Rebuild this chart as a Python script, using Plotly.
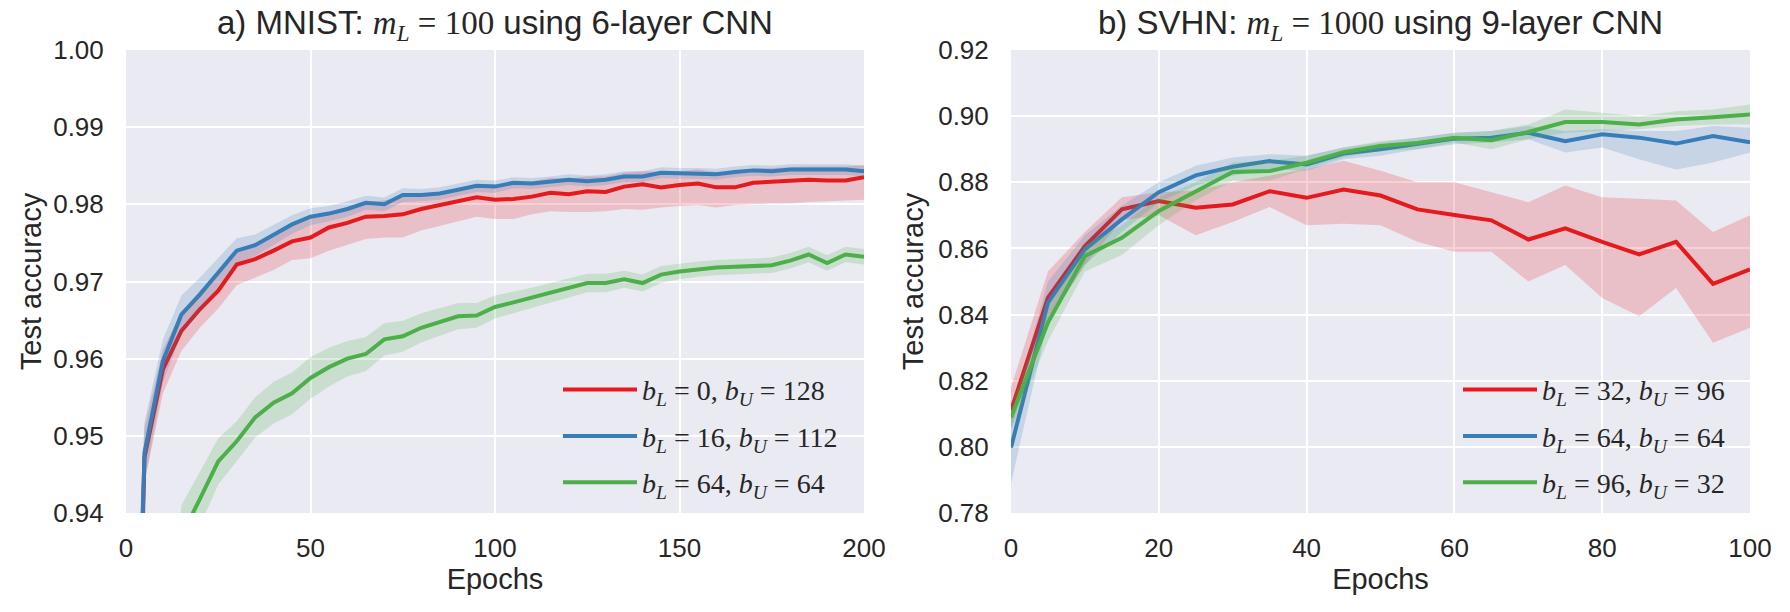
import plotly.graph_objects as go

# ---------------- data: panel a) MNIST ----------------
epochs_a = list(range(0, 205, 5))
red_a = [0.85, 0.9472, 0.9586, 0.9636, 0.9664, 0.9688, 0.9722, 0.9729, 0.9740, 0.9752,
         0.9757, 0.9770, 0.9776, 0.9784, 0.9785, 0.9787, 0.9794, 0.9799, 0.9803, 0.9809,
         0.9806, 0.9807, 0.9810, 0.9815, 0.9813, 0.9817, 0.9816, 0.9823, 0.9826, 0.9822,
         0.9825, 0.9827, 0.9822, 0.9822, 0.9828, 0.9829, 0.9830, 0.9832, 0.9831, 0.9831,
         0.9835]
red_a_lo = [0.80, 0.9440, 0.9555, 0.9610, 0.9640, 0.9665, 0.9695, 0.9705, 0.9715, 0.9728,
            0.9730, 0.9740, 0.9748, 0.9755, 0.9757, 0.9757, 0.9766, 0.9772, 0.9778, 0.9784,
            0.9781, 0.9781, 0.9787, 0.9791, 0.9790, 0.9790, 0.9791, 0.9794, 0.9793, 0.9796,
            0.9798, 0.9799, 0.9796, 0.9799, 0.9800, 0.9801, 0.9801, 0.9803, 0.9804, 0.9805,
            0.9806]
red_a_hi = [0.90, 0.9510, 0.9612, 0.9660, 0.9688, 0.9712, 0.9742, 0.9750, 0.9762, 0.9774,
            0.9782, 0.9790, 0.9797, 0.9803, 0.9805, 0.9810, 0.9813, 0.9816, 0.9820, 0.9826,
            0.9826, 0.9828, 0.9830, 0.9834, 0.9833, 0.9836, 0.9836, 0.9841, 0.9843, 0.9842,
            0.9843, 0.9845, 0.9842, 0.9843, 0.9846, 0.9847, 0.9848, 0.9849, 0.9849, 0.9849,
            0.9851]
blue_a = [0.86, 0.9478, 0.9597, 0.9657, 0.9683, 0.9711, 0.9740, 0.9747, 0.9761, 0.9774,
          0.9784, 0.9788, 0.9794, 0.9802, 0.9800, 0.9812, 0.9812, 0.9814, 0.9819, 0.9824,
          0.9823, 0.9828, 0.9827, 0.9829, 0.9832, 0.9830, 0.9832, 0.9836, 0.9836, 0.9841,
          0.9840, 0.9840, 0.9839, 0.9842, 0.9844, 0.9843, 0.9845, 0.9845, 0.9845, 0.9845,
          0.9843]
blue_a_hw = [0.04, 0.0040, 0.0028, 0.0025, 0.0022, 0.0019, 0.0016, 0.0014, 0.0013, 0.0012,
             0.0011, 0.0010, 0.0010, 0.0009, 0.0009, 0.0009, 0.0008, 0.0008, 0.0008, 0.0008,
             0.0008, 0.0007, 0.0007, 0.0007, 0.0007, 0.0007, 0.0007, 0.0007, 0.0007, 0.0007,
             0.0007, 0.0007, 0.0007, 0.0007, 0.0007, 0.0007, 0.0007, 0.0007, 0.0007, 0.0007,
             0.0007]
green_a = [0.50, 0.80, 0.90, 0.9370, 0.9418, 0.9467, 0.9493, 0.9524, 0.9543, 0.9555,
           0.9575, 0.9589, 0.9600, 0.9606, 0.9625, 0.9629, 0.9640, 0.9647, 0.9655, 0.9656,
           0.9667, 0.9673, 0.9679, 0.9685, 0.9692, 0.9698, 0.9698, 0.9703, 0.9698, 0.9709,
           0.9713, 0.9716, 0.9718, 0.9719, 0.9720, 0.9721, 0.9727, 0.9735, 0.9724, 0.9735,
           0.9732]
green_a_hw = [0.05, 0.02, 0.006, 0.0040, 0.0035, 0.0030, 0.0026, 0.0026, 0.0027, 0.0027,
              0.0027, 0.0025, 0.0023, 0.0022, 0.0021, 0.0020, 0.0019, 0.0018, 0.0017, 0.0016,
              0.0015, 0.0014, 0.0013, 0.0013, 0.0012, 0.0012, 0.0012, 0.0011, 0.0011, 0.0011,
              0.0010, 0.0010, 0.0010, 0.0010, 0.0010, 0.0010, 0.0010, 0.0010, 0.0010, 0.0010,
              0.0010]

# ---------------- data: panel b) SVHN ----------------
epochs_b = list(range(0, 105, 5))
red_b = [0.8109, 0.8451, 0.8607, 0.8718, 0.8743, 0.8723, 0.8733, 0.8773, 0.8753, 0.8778,
         0.8760, 0.8718, 0.8701, 0.8685, 0.8627, 0.8661, 0.8620, 0.8582, 0.8620, 0.8493, 0.8537]
red_b_lo = [0.806, 0.838, 0.855, 0.8685, 0.870, 0.864, 0.868, 0.8725, 0.867, 0.8675,
            0.867, 0.862, 0.859, 0.859, 0.850, 0.855, 0.845, 0.8395, 0.848, 0.8315, 0.836]
red_b_hi = [0.818, 0.853, 0.865, 0.8755, 0.877, 0.8775, 0.880, 0.882, 0.884, 0.8865,
            0.8835, 0.880, 0.880, 0.877, 0.874, 0.879, 0.8755, 0.875, 0.8745, 0.865, 0.870]
blue_b = [0.7998, 0.8436, 0.8597, 0.8688, 0.8770, 0.8821, 0.8847, 0.8864, 0.8854, 0.8887,
          0.8900, 0.8917, 0.8932, 0.8935, 0.8950, 0.8924, 0.8945, 0.8935, 0.8917, 0.8940, 0.8921]
blue_b_lo = [0.789, 0.838, 0.855, 0.865, 0.874, 0.879, 0.882, 0.884, 0.8835, 0.887,
             0.888, 0.890, 0.8915, 0.892, 0.893, 0.889, 0.8905, 0.887, 0.8839, 0.886, 0.889]
blue_b_hi = [0.810, 0.850, 0.864, 0.873, 0.880, 0.885, 0.8875, 0.8885, 0.888, 0.8905,
             0.892, 0.8935, 0.895, 0.8955, 0.897, 0.8955, 0.896, 0.8955, 0.8955, 0.897, 0.8965]
green_b = [0.8089, 0.8376, 0.8577, 0.8632, 0.8713, 0.8773, 0.8831, 0.8834, 0.8859, 0.8891,
           0.8910, 0.8919, 0.8935, 0.8927, 0.8952, 0.8982, 0.8982, 0.8975, 0.8990, 0.8997, 0.9005]
green_b_lo = [0.805, 0.832, 0.853, 0.858, 0.867, 0.8745, 0.8805, 0.8805, 0.884, 0.8875,
              0.8895, 0.890, 0.892, 0.890, 0.893, 0.895, 0.8955, 0.896, 0.897, 0.8975, 0.8975]
green_b_hi = [0.8125, 0.8425, 0.861, 0.867, 0.8755, 0.880, 0.886, 0.8865, 0.888, 0.8905,
              0.8925, 0.8935, 0.895, 0.8955, 0.8975, 0.902, 0.901, 0.900, 0.9015, 0.902, 0.9035]

labels_a = ["<i>b</i><sub><i>L</i></sub> = 0, <i>b</i><sub><i>U</i></sub> = 128",
            "<i>b</i><sub><i>L</i></sub> = 16, <i>b</i><sub><i>U</i></sub> = 112",
            "<i>b</i><sub><i>L</i></sub> = 64, <i>b</i><sub><i>U</i></sub> = 64"]
labels_b = ["<i>b</i><sub><i>L</i></sub> = 32, <i>b</i><sub><i>U</i></sub> = 96",
            "<i>b</i><sub><i>L</i></sub> = 64, <i>b</i><sub><i>U</i></sub> = 64",
            "<i>b</i><sub><i>L</i></sub> = 96, <i>b</i><sub><i>U</i></sub> = 32"]
title_a = ("a) MNIST: <span style='font-family:Liberation Serif'><i>m</i><sub><i>L</i></sub>"
           " = 100</span> using 6-layer CNN")
title_b = ("b) SVHN: <span style='font-family:Liberation Serif'><i>m</i><sub><i>L</i></sub>"
           " = 1000</span> using 9-layer CNN")
yticks_a = [0.94, 0.95, 0.96, 0.97, 0.98, 0.99, 1.00]
yticks_b = [0.78, 0.80, 0.82, 0.84, 0.86, 0.88, 0.90, 0.92]
xticks_a = [0, 50, 100, 150, 200]
xticks_b = [0, 20, 40, 60, 80, 100]

COLORS = ["#e41a1c", "#377eb8", "#4daf4a"]
FILLS = ["rgba(228,26,28,0.2)", "rgba(55,126,184,0.2)", "rgba(77,175,74,0.2)"]

fig = go.Figure()


def add_series(x, mean, lo, hi, color, fill, name, xa, ya, legend, group):
    fig.add_trace(go.Scatter(x=x, y=lo, mode="lines", line=dict(width=0, color=fill),
                             showlegend=False, hoverinfo="skip", xaxis=xa, yaxis=ya))
    fig.add_trace(go.Scatter(x=x, y=hi, mode="lines", line=dict(width=0, color=fill),
                             fill="tonexty", fillcolor=fill, showlegend=False,
                             hoverinfo="skip", xaxis=xa, yaxis=ya))
    fig.add_trace(go.Scatter(x=x, y=mean, mode="lines", line=dict(width=4, color=color),
                             name=name, xaxis=xa, yaxis=ya, legend=legend,
                             legendgroup=group))


series_a = [
    (red_a, red_a_lo, red_a_hi),
    (blue_a, [m - h for m, h in zip(blue_a, blue_a_hw)], [m + h for m, h in zip(blue_a, blue_a_hw)]),
    (green_a, [m - h for m, h in zip(green_a, green_a_hw)], [m + h for m, h in zip(green_a, green_a_hw)]),
]
for i, (m, lo, hi) in enumerate(series_a):
    add_series(epochs_a, m, lo, hi, COLORS[i], FILLS[i], labels_a[i], "x", "y", "legend", f"a{i}")

series_b = [(red_b, red_b_lo, red_b_hi), (blue_b, blue_b_lo, blue_b_hi), (green_b, green_b_lo, green_b_hi)]
for i, (m, lo, hi) in enumerate(series_b):
    add_series(epochs_b, m, lo, hi, COLORS[i], FILLS[i], labels_b[i], "x2", "y2", "legend2", f"b{i}")

TXT = "#262626"
BG = "#EAEAF2"

axis_common = dict(showgrid=True, gridcolor="white", gridwidth=2, zeroline=False,
                   showline=False, ticks="outside", tickcolor="rgba(0,0,0,0)",
                   tickfont=dict(size=26, color=TXT))

xa_common = dict(axis_common, ticklen=12,
                 title=dict(text="Epochs", font=dict(size=29, color=TXT), standoff=6))
ya_common = dict(axis_common, ticklen=16, tickformat=".2f")

L, R, T, B = 126, 40, 50, 99
W = 1790 - L - R

legend_common = dict(xanchor="left", y=0.32, yanchor="top", traceorder="grouped",
                     tracegroupgap=7, itemwidth=74, bgcolor="rgba(0,0,0,0)", borderwidth=0,
                     font=dict(family="Liberation Serif, serif", size=28, color=TXT))

fig.update_layout(
    width=1790, height=612,
    margin=dict(l=L, r=R, t=T, b=B),
    paper_bgcolor="white", plot_bgcolor=BG,
    font=dict(family="Liberation Sans, Arial, sans-serif", size=26, color=TXT),
    xaxis=dict(xa_common, domain=[0, 738 / W], range=[0, 200], tickvals=xticks_a, anchor="y"),
    yaxis=dict(ya_common, domain=[0, 1], range=[0.94, 1.00], tickvals=yticks_a, anchor="x",
               title=dict(text="Test accuracy", font=dict(size=29, color=TXT), standoff=3)),
    xaxis2=dict(xa_common, domain=[(1011 - L) / W, 1], range=[0, 100], tickvals=xticks_b, anchor="y2"),
    yaxis2=dict(ya_common, domain=[0, 1], range=[0.78, 0.92], tickvals=yticks_b, anchor="x2",
                title=dict(text="Test accuracy", font=dict(size=29, color=TXT), standoff=6)),
    legend=dict(legend_common, x=(558 - L) / W),
    legend2=dict(legend_common, x=(1458 - L) / W),
    annotations=[
        dict(text=title_a, x=369 / W, xref="paper", y=1, yref="paper",
             xanchor="center", yanchor="bottom", yshift=2, showarrow=False,
             font=dict(size=33, color=TXT)),
        dict(text=title_b, x=((1011 - L) + 369) / W, xref="paper", y=1, yref="paper",
             xanchor="center", yanchor="bottom", yshift=2, showarrow=False,
             font=dict(size=33, color=TXT)),
    ],
    showlegend=True,
)

fig.write_html("out.html")
